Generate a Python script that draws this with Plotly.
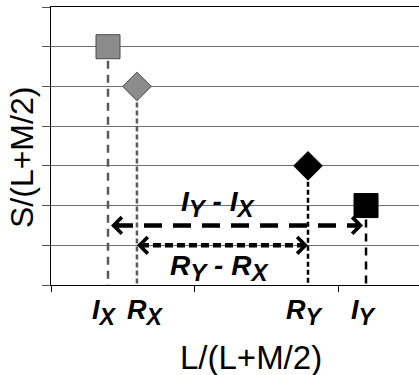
import plotly.graph_objects as go

# ---- data ----
point_keys = ["IX", "RX", "RY", "IY"]
point_main = ["I", "R", "R", "I"]
point_subs = ["X", "X", "Y", "Y"]
x_vals = [0.396, 0.597, 1.785, 2.188]   # L/(L+M/2)
y_vals = [6, 5, 3, 2]                   # S/(L+M/2)
symbols = ["square", "diamond", "diamond", "square"]
fill_colors = ["#8c8c8c", "#8c8c8c", "#000000", "#000000"]
edge_colors = ["#4a4a4a", "#4a4a4a", "#000000", "#000000"]
drop_colors = ["#5a5a5a", "#5a5a5a", "#000000", "#000000"]
drop_dashes = ["8px,6px", "5px,3px", "5px,3px", "8px,6px"]
marker_sizes = [24, 22, 22, 24]

diff_pairs = [("IX", "IY"), ("RX", "RY")]
diff_y = [1.5, 1.0]
diff_dashes = ["18px,11px", "8px,4px"]

x_range = [0, 2.556]
y_range = [0, 7]
x_ticks = [0, 1, 2]

W, H = 419, 375
ML, MR, MT, MB = 51, 0, 7, 90
plot_w = W - ML - MR
px_per_x = plot_w / (x_range[1] - x_range[0])

FONT = "Liberation Sans, Arial, sans-serif"
xv = dict(zip(point_keys, x_vals))
lab_main = dict(zip(point_keys, point_main))
lab_sub = dict(zip(point_keys, point_subs))
label_xshift = dict(IX=-4, RX=9, RY=-3, IY=-2)


def sym(key, sub_px):
    return ("<b><i>%s</i></b><sub><span style='font-size:%dpx'><b><i>%s</i></b></span></sub>"
            % (lab_main[key], sub_px, lab_sub[key]))


fig = go.Figure()

# dashed drop lines from each point down to the axis
for x, y, c, d in zip(x_vals, y_vals, drop_colors, drop_dashes):
    fig.add_trace(go.Scatter(x=[x, x], y=[y, 0], mode="lines",
                             line=dict(color=c, width=2.5, dash=d),
                             hoverinfo="skip", showlegend=False))

# difference arrows (dashed shafts)
annotations = []
for (a, b), yy, dd, k in zip(diff_pairs, diff_y, diff_dashes, range(2)):
    gap = 3 if k == 0 else 0
    x0 = xv[a] + (gap + 4) / px_per_x
    x1 = xv[b] - (gap + 4) / px_per_x
    fig.add_trace(go.Scatter(x=[x0, x1], y=[yy, yy], mode="lines",
                             line=dict(color="#000000", width=4.5, dash=dd),
                             hoverinfo="skip", showlegend=False))
    for tip, sgn in ((xv[a] + gap / px_per_x, 1), (xv[b] - gap / px_per_x, -1)):
        annotations.append(dict(x=tip, y=yy, xref="x", yref="y",
                                ax=tip + sgn * 10 / px_per_x, ay=yy,
                                axref="x", ayref="y", text="", showarrow=True,
                                arrowhead=4, arrowsize=0.8, arrowwidth=4,
                                arrowcolor="#000000", standoff=0))
    mid = (xv[a] + xv[b]) / 2
    lab = sym(b, 24) + "<b><i> - </i></b>" + sym(a, 24)
    annotations.append(dict(x=mid, y=yy, xref="x", yref="y", text=lab,
                            showarrow=False, xanchor="center", yanchor="middle",
                            xshift=-19 if k == 0 else -3,
                            yshift=21 if k == 0 else -23,
                            font=dict(family=FONT, size=28, color="#000000")))

# markers
fig.add_trace(go.Scatter(x=x_vals, y=y_vals, mode="markers",
                         marker=dict(symbol=symbols, size=marker_sizes,
                                     color=fill_colors, opacity=1,
                                     line=dict(color=edge_colors, width=1)),
                         hoverinfo="skip", showlegend=False))

# point labels under the x axis
for key in point_keys:
    annotations.append(dict(x=xv[key], y=0, xref="x", yref="y", text=sym(key, 23),
                            showarrow=False, xanchor="center", yanchor="middle",
                            xshift=label_xshift[key], yshift=-27,
                            font=dict(family=FONT, size=27, color="#000000")))

# axis titles
annotations.append(dict(x=0.543, y=0, xref="paper", yref="paper",
                        text="L/(L+M/2)", showarrow=False,
                        xanchor="center", yanchor="middle", yshift=-72,
                        font=dict(family=FONT, size=33, color="#000000")))
annotations.append(dict(x=0, y=0.5, xref="paper", yref="paper",
                        text="S/(L+M/2)", showarrow=False, textangle=-90,
                        xanchor="center", yanchor="middle", xshift=-29, yshift=-12,
                        font=dict(family=FONT, size=32, color="#000000")))

fig.update_layout(
    width=W, height=H,
    margin=dict(l=ML, r=MR, t=MT, b=MB),
    paper_bgcolor="white", plot_bgcolor="white",
    annotations=annotations,
    xaxis=dict(range=x_range, tickvals=x_ticks, showticklabels=False,
               ticks="outside", ticklen=6, tickcolor="#000000", tickwidth=1,
               showline=True, linecolor="#000000", linewidth=1, mirror=True,
               showgrid=False, zeroline=False, fixedrange=True),
    yaxis=dict(range=y_range, dtick=1, tick0=0, showticklabels=False,
               ticks="outside", ticklen=8, tickcolor="#555555", tickwidth=1,
               showline=True, linecolor="#000000", linewidth=1,
               showgrid=True, gridcolor="#6e6e6e", gridwidth=1,
               zeroline=False, fixedrange=True),
)

fig.write_html("out.html",
               config={"displayModeBar": False},
               post_script="document.body.style.margin='0';document.body.style.overflow='hidden';")
